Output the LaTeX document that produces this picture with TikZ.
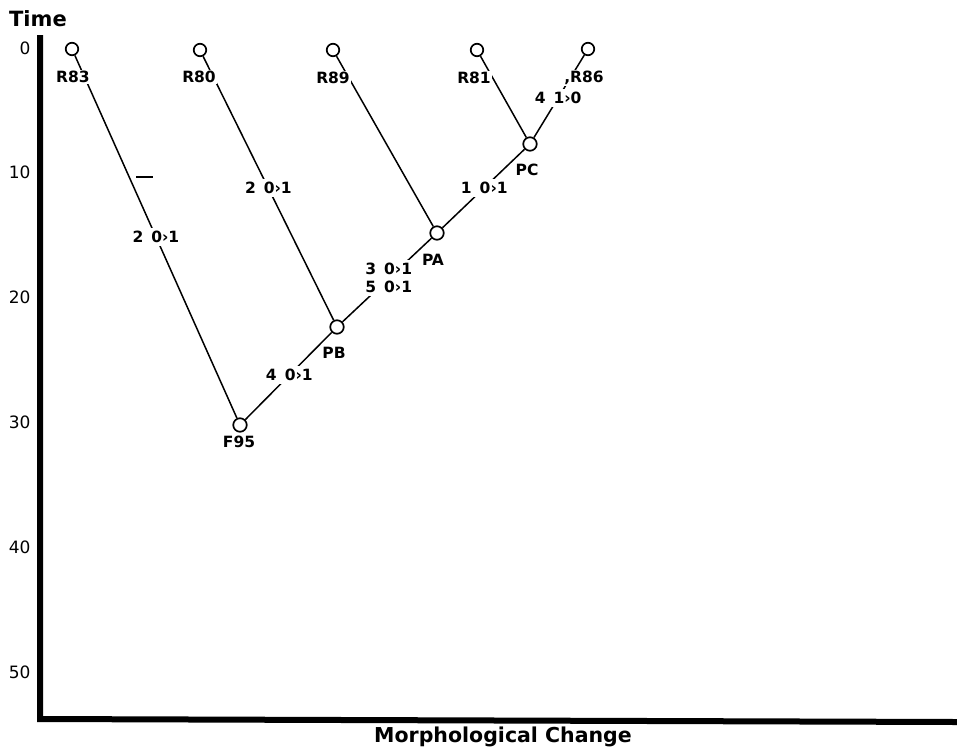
\documentclass[tikz,border=0pt]{standalone}
\usepackage{fontspec}
\setmainfont{DejaVu Sans}
\newcommand{\chg}[2]{#1\hspace{8pt}#2}
\begin{document}
\begin{tikzpicture}[
  x=1pt, y=-1pt,
  font=\bfseries\fontsize{15.5}{18}\selectfont,
  tip/.style={circle, draw, line width=1.7pt, minimum size=12.5pt, inner sep=0pt},
  anc/.style={circle, draw, fill=white, line width=1.7pt, minimum size=13.5pt, inner sep=0pt},
  taxon/.style={fill=white, inner sep=1pt},
  change/.style={fill=white, inner sep=3pt, align=center},
  branch/.style={line width=1.5pt},
  tick/.style={anchor=east, font=\fontsize{17}{19}\selectfont}
]
\useasboundingbox (0,0) rectangle (957,750);

% Axes
\draw[line width=6pt] (40,35) -- (40,719) -- (957,722);
\foreach \t [count=\i from 0] in {0,10,20,30,40,50}
  \node[tick] at (34,48+124.8*\i) {\t};
\node[font=\bfseries\fontsize{21}{23}\selectfont] (time) at (38,19) {Time};
\node[font=\bfseries\fontsize{20.5}{23}\selectfont] (xlabel) at (503,737) {Morphological Change};

% Nodes
\node[tip] (r83) at (72,49) {};
\node[tip] (r80) at (200,50) {};
\node[tip] (r89) at (333,50) {};
\node[tip] (r81) at (477,50) {};
\node[tip] (r86) at (588,49) {};
\node[anc] (pc) at (530,144) {};
\node[anc] (pa) at (437,233) {};
\node[anc] (pb) at (337,327) {};
\node[anc] (f95) at (240,425) {};

% Branches
\draw[branch] (r83) -- (f95) node[change, pos=0.5] {\chg{2}{0›1}};
\draw[branch] (r80) -- (pb) node[change, pos=0.5] {\chg{2}{0›1}};
\draw[branch] (r89) -- (pa);
\draw[branch] (r81) -- (pc);
\draw[branch] (r86) -- (pc) node[change, pos=0.52] {\chg{4}{1›0}};
\draw[branch] (pc) -- (pa) node[change, pos=0.49] {\chg{1}{0›1}};
\draw[branch] (pa) -- (pb) node[change, pos=0.48] {\chg{3}{0›1}\\\chg{5}{0›1}};
\draw[branch] (pb) -- (f95) node[change, pos=0.49] {\chg{4}{0›1}};
\draw[line width=1.5pt] (136,177) -- (153,177);

% Labels
\node[taxon] (l83) at (73,77) {R83};
\node[taxon] (l80) at (199,77) {R80};
\node[taxon] (l89) at (333,78) {R89};
\node[taxon] (l81) at (474,78) {R81};
\node[taxon] (l86) at (584,78) {,R86};
\node (lpc) at (527,170) {PC};
\node (lpa) at (433,260) {PA};
\node (lpb) at (334,353) {PB};
\node (lf95) at (239,442) {F95};

\end{tikzpicture}
\end{document}
